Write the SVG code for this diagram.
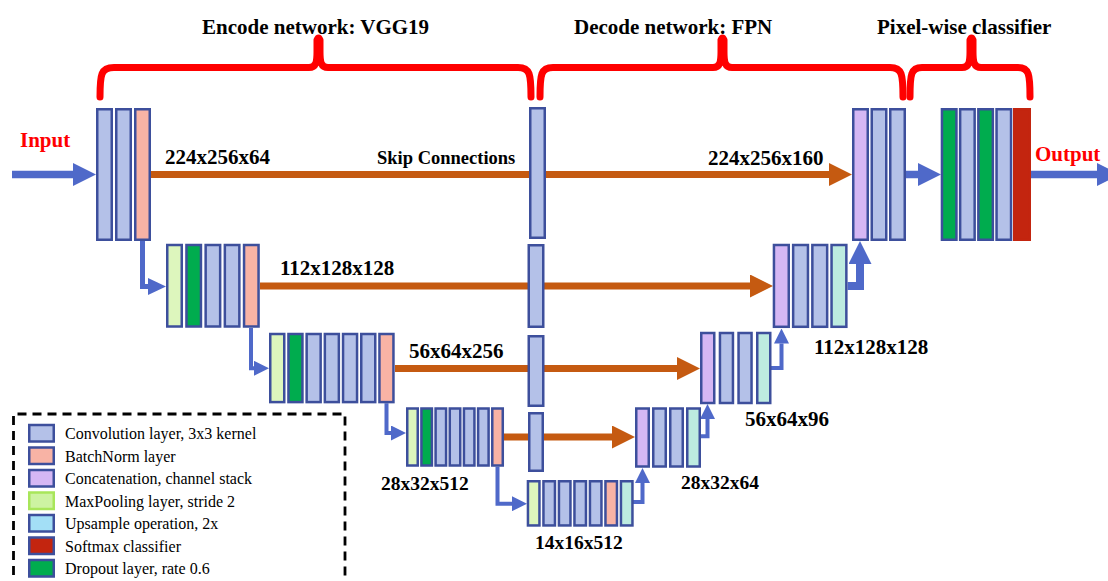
<svg xmlns="http://www.w3.org/2000/svg" width="1108" height="581" viewBox="0 0 1108 581">
<style>
rect.b{stroke:#3D4F9C;stroke-width:2.5}
.c{fill:#B4C1E8}.bn{fill:#F8B3A5}.dp{fill:#00AC4E}.mp{fill:#DDF6BD}.ct{fill:#D5B7F4}.up{fill:#BDEBE0}.sm{fill:#C3250F;stroke:#C3250F;stroke-width:2.5}
.t{font-family:"Liberation Serif","Times New Roman",serif;font-weight:bold;font-size:21px;fill:#000}
.s{font-size:19.5px}
.red{fill:#FF0000}
.lg{font-family:"Liberation Serif","Times New Roman",serif;font-size:16px;fill:#000}
.ol{stroke:#C55A11;stroke-width:7;fill:none}
.bl{stroke:#4F69C9;fill:none;stroke-linejoin:miter}
.brace{stroke:#FF0000;stroke-width:7;fill:none;stroke-linecap:round;stroke-linejoin:round}
</style>
<defs>
<marker id="ob" markerUnits="userSpaceOnUse" markerWidth="23" markerHeight="23" viewBox="0 0 23 23" refX="0" refY="11.5" orient="auto"><path d="M0,0 L23,11.5 L0,23 z" fill="#C55A11"/></marker>
<marker id="bb" markerUnits="userSpaceOnUse" markerWidth="23" markerHeight="23" viewBox="0 0 23 23" refX="0" refY="11.5" orient="auto"><path d="M0,0 L23,11.5 L0,23 z" fill="#4F69C9"/></marker>
<marker id="bm" markerUnits="userSpaceOnUse" markerWidth="18" markerHeight="17" viewBox="0 0 18 17" refX="0" refY="8.5" orient="auto"><path d="M0,0 L18,8.5 L0,17 z" fill="#4F69C9"/></marker>
<marker id="bs" markerUnits="userSpaceOnUse" markerWidth="15" markerHeight="15" viewBox="0 0 15 15" refX="0" refY="7.5" orient="auto"><path d="M0,0 L15,7.5 L0,15 z" fill="#4F69C9"/></marker>
</defs>
<rect width="1108" height="581" fill="#FFFFFF"/>

<g id="titles">
<text class="t" x="202" y="34">Encode network: VGG19</text>
<text class="t" x="574" y="34">Decode network: FPN</text>
<text class="t" x="877" y="34">Pixel-wise classifier</text>
</g>

<g id="braces">
<path class="brace" d="M100,97 C100,74 101,67.5 114,67.5 L309,67.5 C316,67.5 317,62 317,52 L317,40 Q318.5,36 320,40 L320,52 C320,62 321,67.5 328,67.5 L518,67.5 C530,67.5 531,74 531,97"/>
<path class="brace" d="M540,97 C540,74 541,67.5 553,67.5 L713,67.5 C720,67.5 721,62 721,52 L721,40 Q722.5,36 724,40 L724,52 C724,62 725,67.5 732,67.5 L890,67.5 C902,67.5 903,74 903,97"/>
<path class="brace" d="M910,97 C910,74 911,67.5 922,67.5 L962,67.5 C969,67.5 970,62 970,52 L970,40 Q971.5,36 973,40 L973,52 C973,62 974,67.5 981,67.5 L1018,67.5 C1029,67.5 1030,74 1030,97"/>
</g>

<g id="connectors">
<path class="ol" d="M151,174.5 H829" marker-end="url(#ob)"/>
<path class="ol" d="M260,286 H750" marker-end="url(#ob)"/>
<path class="ol" d="M395,368.5 H677" marker-end="url(#ob)"/>
<path class="ol" d="M504,437 H612" marker-end="url(#ob)"/>
<path class="bl" stroke-width="7.5" d="M12,174.5 H73" marker-end="url(#bb)"/>
<path class="bl" stroke-width="7.5" d="M906,174.5 H918" marker-end="url(#bb)"/>
<path class="bl" stroke-width="7.5" d="M1031,174.5 H1097" marker-end="url(#bb)"/>
<path class="bl" stroke-width="5" d="M142.5,241 V286.5 H148" marker-end="url(#bm)"/>
<path class="bl" stroke-width="4" d="M251,328 V368.3 H254" marker-end="url(#bs)"/>
<path class="bl" stroke-width="4" d="M386.5,403.3 V433 H391" marker-end="url(#bs)"/>
<path class="bl" stroke-width="4" d="M497.5,466.7 V503.7 H512" marker-end="url(#bs)"/>
<path class="bl" stroke-width="4" d="M633,502 H642.5 V483" marker-end="url(#bs)"/>
<path class="bl" stroke-width="4" d="M700,436.3 H707.5 V419" marker-end="url(#bs)"/>
<path class="bl" stroke-width="4" d="M771,368 H781.5 V343.5" marker-end="url(#bs)"/>
<path class="bl" stroke-width="8" d="M847.6,286 H860 V264" marker-end="url(#bb)"/>
</g>

<g id="enc1">
<rect class="b c" x="97.25" y="109.25" width="14.5" height="130.5"/>
<rect class="b c" x="116.25" y="109.25" width="14.5" height="130.5"/>
<rect class="b bn" x="135.25" y="109.25" width="14.5" height="130.5"/>
</g>
<g id="enc2">
<rect class="b mp" x="167.25" y="245" width="14.5" height="81.5"/>
<rect class="b dp" x="186.45" y="245" width="14.5" height="81.5"/>
<rect class="b c" x="205.65" y="245" width="14.5" height="81.5"/>
<rect class="b c" x="224.85" y="245" width="14.5" height="81.5"/>
<rect class="b bn" x="244.05" y="245" width="14.5" height="81.5"/>
</g>
<g id="enc3">
<rect class="b mp" x="270.25" y="334" width="14" height="68.1"/>
<rect class="b dp" x="288.45" y="334" width="14" height="68.1"/>
<rect class="b c" x="306.65" y="334" width="14" height="68.1"/>
<rect class="b c" x="324.85" y="334" width="14" height="68.1"/>
<rect class="b c" x="343.05" y="334" width="14" height="68.1"/>
<rect class="b c" x="361.25" y="334" width="14" height="68.1"/>
<rect class="b bn" x="379.45" y="334" width="14" height="68.1"/>
</g>
<g id="enc4">
<rect class="b mp" x="407.25" y="408.5" width="10.5" height="57"/>
<rect class="b dp" x="421.42" y="408.5" width="10.5" height="57"/>
<rect class="b c" x="435.59" y="408.5" width="10.5" height="57"/>
<rect class="b c" x="449.76" y="408.5" width="10.5" height="57"/>
<rect class="b c" x="463.93" y="408.5" width="10.5" height="57"/>
<rect class="b c" x="478.1" y="408.5" width="10.5" height="57"/>
<rect class="b bn" x="492.27" y="408.5" width="10.5" height="57"/>
</g>
<g id="bottleneck">
<rect class="b mp" x="527.95" y="481.25" width="11.5" height="44.2"/>
<rect class="b c" x="543.45" y="481.25" width="11.5" height="44.2"/>
<rect class="b c" x="558.95" y="481.25" width="11.5" height="44.2"/>
<rect class="b c" x="574.45" y="481.25" width="11.5" height="44.2"/>
<rect class="b c" x="589.95" y="481.25" width="11.5" height="44.2"/>
<rect class="b bn" x="605.45" y="481.25" width="11.5" height="44.2"/>
<rect class="b up" x="620.95" y="481.25" width="11.5" height="44.2"/>
</g>
<g id="skip">
<rect class="b c" x="530.25" y="108.25" width="14.5" height="129.5"/>
<rect class="b c" x="528.75" y="245.25" width="14.5" height="81.5"/>
<rect class="b c" x="528.75" y="336.25" width="14.5" height="69.5"/>
<rect class="b c" x="529.25" y="413.25" width="13.5" height="57.5"/>
</g>
<g id="dec4">
<rect class="b ct" x="636.25" y="408.5" width="12.5" height="58"/>
<rect class="b c" x="653.25" y="408.5" width="12.5" height="58"/>
<rect class="b c" x="670.25" y="408.5" width="12.5" height="58"/>
<rect class="b up" x="687.25" y="408.5" width="12.5" height="58"/>
</g>
<g id="dec3">
<rect class="b ct" x="701.25" y="333" width="13" height="70"/>
<rect class="b c" x="719.95" y="333" width="13" height="70"/>
<rect class="b c" x="738.55" y="333" width="13" height="70"/>
<rect class="b up" x="757.25" y="333" width="13" height="70"/>
</g>
<g id="dec2">
<rect class="b ct" x="773.95" y="245" width="14.8" height="81.8"/>
<rect class="b c" x="793.15" y="245" width="14.8" height="81.8"/>
<rect class="b c" x="812.35" y="245" width="14.8" height="81.8"/>
<rect class="b up" x="831.55" y="245" width="14.8" height="81.8"/>
</g>
<g id="dec1">
<rect class="b ct" x="853.25" y="109.25" width="14.5" height="130.5"/>
<rect class="b c" x="871.75" y="109.25" width="14.5" height="130.5"/>
<rect class="b c" x="890.25" y="109.25" width="14.5" height="130.5"/>
</g>
<g id="classifier">
<rect class="b dp" x="941.95" y="109.25" width="14.5" height="130.5"/>
<rect class="b c" x="960.15" y="109.25" width="14.5" height="130.5"/>
<rect class="b dp" x="978.35" y="109.25" width="14.5" height="130.5"/>
<rect class="b c" x="996.55" y="109.25" width="14.5" height="130.5"/>
<rect class="sm" x="1014.25" y="109.25" width="15.5" height="130.5"/>
</g>

<g id="labels">
<text class="t red" x="20" y="147">Input</text>
<text class="t red" x="1035" y="161">Output</text>
<text class="t" x="165" y="164">224x256x64</text>
<text class="t" x="377" y="164" style="font-size:18.5px">Skip Connections</text>
<text class="t" x="708" y="165">224x256x160</text>
<text class="t" x="280" y="275">112x128x128</text>
<text class="t" x="409" y="358">56x64x256</text>
<text class="t s" x="381" y="490">28x32x512</text>
<text class="t s" x="535" y="549">14x16x512</text>
<text class="t s" x="681" y="489">28x32x64</text>
<text class="t" x="745" y="426">56x64x96</text>
<text class="t" x="814" y="354">112x128x128</text>
</g>

<g id="legend">
<path d="M13.5,590 V414 H345 V590" fill="none" stroke="#000" stroke-width="2.8" stroke-dasharray="9 6"/>
<rect class="b c" x="29.25" y="425" width="24.5" height="16.5"/>
<rect class="b bn" x="29.25" y="447.5" width="24.5" height="16.5"/>
<rect class="b ct" x="29.25" y="470" width="24.5" height="16.5"/>
<rect x="29.25" y="492.5" width="24.5" height="16.5" fill="#CDF3A2" stroke="#A8E65A" stroke-width="2.5"/>
<rect class="b" x="29.25" y="515" width="24.5" height="16.5" fill="#A3DFF6"/>
<rect class="b" x="29.25" y="537.5" width="24.5" height="16.5" fill="#C3250F"/>
<rect class="b dp" x="29.25" y="560" width="24.5" height="16.5"/>
<text class="lg" x="65" y="439">Convolution layer, 3x3 kernel</text>
<text class="lg" x="65" y="461.5">BatchNorm layer</text>
<text class="lg" x="65" y="484">Concatenation, channel stack</text>
<text class="lg" x="65" y="506.5">MaxPooling layer, stride 2</text>
<text class="lg" x="65" y="529">Upsample operation, 2x</text>
<text class="lg" x="65" y="551.5">Softmax classifier</text>
<text class="lg" x="65" y="574">Dropout layer, rate 0.6</text>
</g>
</svg>
